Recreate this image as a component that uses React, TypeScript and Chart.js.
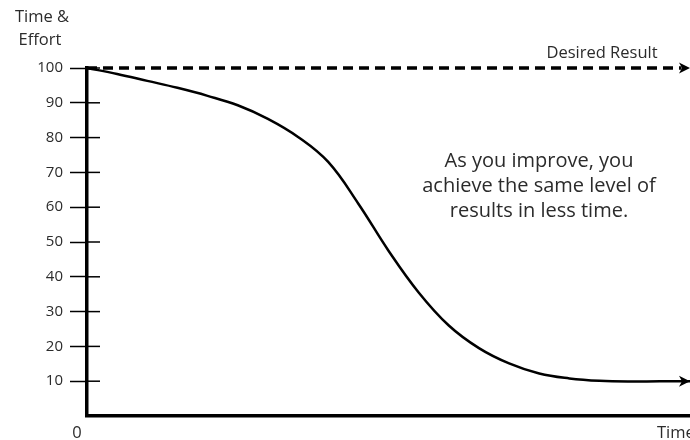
import React, { useEffect, useRef } from "react";
import { Chart, registerables } from "chart.js";

Chart.register(...registerables);

const timeValues = [0, 5, 10, 15, 20, 25, 30, 35, 40, 45, 50, 55, 60, 65, 70, 75, 80, 85, 90, 95, 100];
const effortValues = [100, 98.3, 96.3, 94.3, 92.0, 89.3, 85.4, 80.2, 73.0, 61.0, 47.5, 35.5, 26.0, 19.5, 15.1, 12.2, 10.8, 10.1, 9.9, 10.0, 10.0];
const desiredTime = [0, 98.6];
const desiredValues = [100, 100];
const yTickValues = [0, 10, 20, 30, 40, 50, 60, 70, 80, 90, 100];
const yAxisTitle = ["Time &", "Effort"];
const xAxisTitle = "Time";
const originLabel = "0";
const desiredLabel = "Desired Result";
const noteLines = ["As you improve, you", "achieve the same level of", "results in less time."];

const FONT = "'Open Sans', sans-serif";
const TEXT = "#2b2b2b";

const arrowHead = (ctx: CanvasRenderingContext2D, x: number, y: number) => {
  ctx.save();
  ctx.fillStyle = "#000";
  ctx.beginPath();
  ctx.moveTo(x, y);
  ctx.lineTo(x - 11, y - 5.5);
  ctx.lineTo(x - 8, y);
  ctx.lineTo(x - 11, y + 5.5);
  ctx.closePath();
  ctx.fill();
  ctx.restore();
};

const decorPlugin = {
  id: "decor",
  afterDraw(chart: any) {
    const { ctx, chartArea, scales } = chart;
    const xs = scales.x;
    const ys = scales.y;
    ctx.save();
    ctx.strokeStyle = "#000";
    ctx.lineWidth = 1.5;
    yTickValues.forEach((v) => {
      if (v === 0) return;
      const py = ys.getPixelForValue(v);
      ctx.beginPath();
      ctx.moveTo(chartArea.left, py);
      ctx.lineTo(chartArea.left + 13, py);
      ctx.stroke();
    });
    arrowHead(ctx, xs.getPixelForValue(100), ys.getPixelForValue(desiredValues[1]));
    arrowHead(ctx, xs.getPixelForValue(timeValues[timeValues.length - 1]), ys.getPixelForValue(effortValues[effortValues.length - 1]));
    ctx.fillStyle = TEXT;
    ctx.textBaseline = "middle";
    ctx.font = `16.5px ${FONT}`;
    ctx.textAlign = "center";
    ctx.fillText(yAxisTitle[0], 42, 17);
    ctx.fillText(yAxisTitle[1], 40, 40);
    ctx.fillText(desiredLabel, 602, 53);
    ctx.fillText(originLabel, xs.getPixelForValue(0) - 10, 433);
    ctx.textAlign = "left";
    ctx.fillText(xAxisTitle, 657, 433);
    ctx.textAlign = "center";
    ctx.font = `20px ${FONT}`;
    noteLines.forEach((l, i) => ctx.fillText(l, 539, 161 + i * 25));
    ctx.restore();
  },
};

export default function App() {
  const ref = useRef<HTMLCanvasElement>(null);
  useEffect(() => {
    document.body.style.margin = "0";
    if (!ref.current) return;
    const chart = new Chart(ref.current, {
      type: "line",
      data: {
        datasets: [
          {
            data: timeValues.map((x, i) => ({ x, y: effortValues[i] })),
            borderColor: "#000",
            borderWidth: 2.5,
            pointRadius: 0,
            tension: 0.4,
            clip: false as any,
          },
          {
            data: desiredTime.map((x, i) => ({ x, y: desiredValues[i] })),
            borderColor: "#000",
            borderWidth: 3.5,
            borderDash: [10, 6],
            pointRadius: 0,
            clip: false as any,
          },
        ],
      },
      options: {
        animation: false,
        responsive: false,
        layout: { padding: { left: 0, right: 0, top: 68, bottom: 0 } },
        plugins: { legend: { display: false }, tooltip: { enabled: false } },
        scales: {
          x: {
            type: "linear",
            min: 0,
            max: 100,
            grid: { display: false },
            ticks: { display: false },
            border: { display: true, width: 3.5, color: "#000" },
            afterFit: (s: any) => {
              s.height = 24;
            },
          },
          y: {
            min: 0,
            max: 100,
            afterBuildTicks: (s: any) => {
              s.ticks = yTickValues.map((v) => ({ value: v }));
            },
            ticks: {
              padding: 7,
              color: TEXT,
              font: { family: FONT, size: 15 },
              callback: (v: any) => (v === 0 ? "" : String(v)),
            },
            grid: {
              drawOnChartArea: false,
              drawTicks: true,
              tickLength: 17,
              tickWidth: 1.5,
              tickColor: (c: any) => (c.tick && c.tick.value === 0 ? "rgba(0,0,0,0)" : "#000"),
            },
            border: { display: true, width: 3.5, color: "#000" },
            afterFit: (s: any) => {
              s.width = 87;
            },
          },
        },
      },
      plugins: [decorPlugin],
    });
    return () => chart.destroy();
  }, []);
  return (
    <div style={{ width: 690, height: 440 }}>
      <canvas ref={ref} width={690} height={440} />
    </div>
  );
}
